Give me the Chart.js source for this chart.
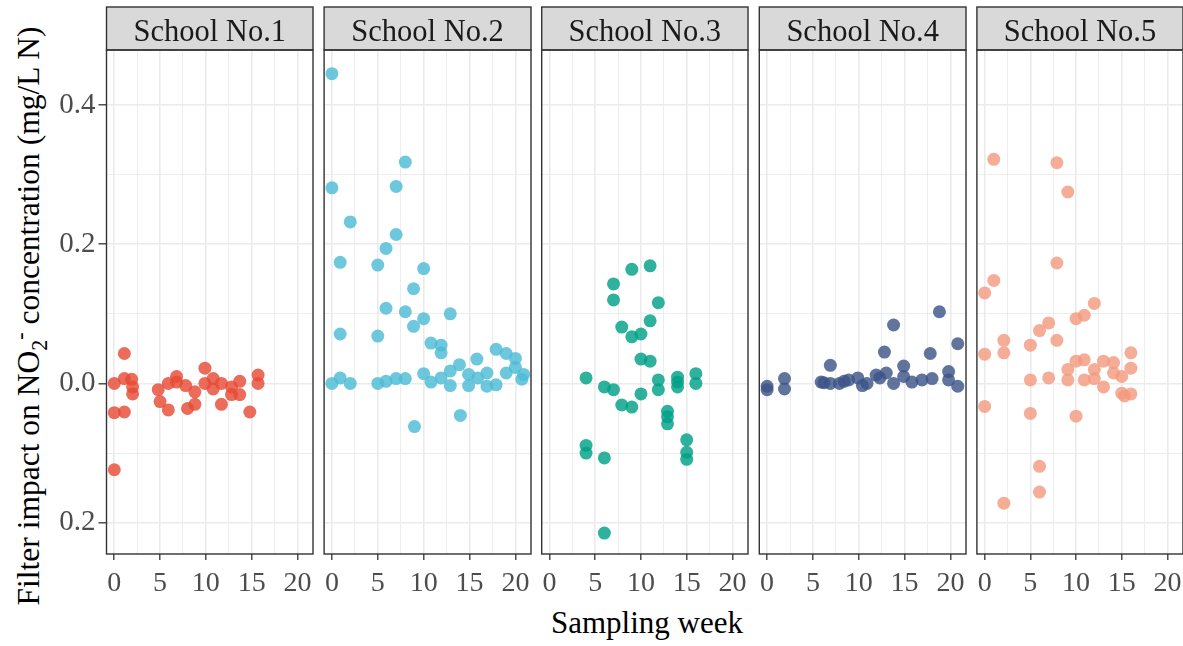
<!DOCTYPE html>
<html>
<head>
<meta charset="utf-8">
<script src="https://cdn.jsdelivr.net/npm/chart.js@4.4.1/dist/chart.umd.min.js"></script>
<style>
  body { margin: 0; background: #fff; }
  #wrap { position: relative; width: 1183px; height: 646px; overflow: hidden; background: #fff;
          font-family: "Liberation Serif", "Times New Roman", serif; color: #000; }
  #wrap canvas { position: absolute; top: 0; }
  .ytitle { position: absolute; left: 29px; top: 316px; font-size: 31.5px; line-height: 1; white-space: nowrap;
            transform: translate(-50%, -50%) rotate(-90deg); }
  .ytitle sub, .ytitle sup { font-size: 70%; line-height: 0; }
  .xtitle { position: absolute; left: 647px; top: 607px; font-size: 31px; line-height: 1; white-space: nowrap;
            transform: translateX(-50%); }
</style>
</head>
<body>
<div id="wrap">
  <div class="ytitle">Filter impact on NO<sub>2</sub><sup>-</sup> concentration (mg/L N)</div>
  <div class="xtitle">Sampling week</div>
</div>
<script>
// facets
var schools = ['School No.1', 'School No.2', 'School No.3', 'School No.4', 'School No.5'];
var colors = ['#E64B35', '#4DBBD5', '#00A087', '#3C5488', '#F39B7F'];

// sampling week / filter impact per school
var s1Week = [0, 0, 0, 1.1, 1.1, 1.1, 1.9, 2, 2, 4.8, 5, 5.9, 5.9, 6.8, 6.8, 7.8, 8, 8.8, 8.8, 9.9, 9.9,
              10.8, 10.8, 11.7, 11.7, 12.8, 12.8, 13.7, 13.7, 14.8, 15.7, 15.7];
var s1Impact = [0, -0.042, -0.124, 0.043, 0.007, -0.041, 0.006, -0.005, -0.015, -0.009, -0.026, -0.038, 0,
                0.01, 0.002, -0.003, -0.036, -0.03, -0.012, 0.022, 0, 0.007, -0.008, -0.03, 0, -0.016,
                -0.005, 0.003, -0.016, -0.041, 0.012, 0];

var s2Week = [0, 0, 2, 0.9, 0.9, 0, 0.9, 2, 8, 7, 7, 5.9, 5, 10, 8.9, 5.9, 8, 10, 8.9, 12.9, 5, 10.8, 11.9,
              11.9, 5, 5.9, 7, 8, 10, 10.8, 11.9, 12.9, 12.9, 13.9, 15.8, 14.9, 14.9, 15.9, 16.9, 16.9,
              17.9, 19, 20, 17.9, 19, 20, 20.9, 20.7, 9, 14];
var s2Impact = [0.445, 0.281, 0.232, 0.174, 0.071, 0, 0.008, 0, 0.318, 0.283, 0.214, 0.194, 0.17, 0.165,
                0.136, 0.108, 0.103, 0.093, 0.082, 0.1, 0.068, 0.058, 0.055, 0.044, 0, 0.003, 0.007, 0.007,
                0.014, 0.002, 0.008, 0.018, -0.003, 0.027, 0.035, 0.013, -0.003, 0.008, 0.015, -0.004,
                0.049, 0.043, 0.036, -0.002, 0.015, 0.023, 0.013, 0.006, -0.062, -0.046];

var s3Week = [4, 4, 4, 6, 6, 6, 7, 7, 7, 7.9, 7.9, 9, 9, 9, 10, 10, 10, 11, 11, 11, 11.9, 11.9, 11.9,
              12.9, 12.9, 12.9, 14, 14, 14, 15, 15, 15, 16, 16];
var s3Impact = [0.008, -0.089, -0.1, -0.107, -0.215, -0.005, -0.009, 0.143, 0.12, 0.081, -0.031, 0.164,
                0.067, -0.034, 0.071, 0.035, -0.015, 0.169, 0.09, 0.032, 0.116, 0.005, -0.009, -0.04,
                -0.048, -0.058, 0.009, 0.002, -0.005, -0.081, -0.099, -0.109, 0.014, 0];

var s4Week = [0, 0, 1.9, 1.9, 5.9, 6.2, 6.9, 6.9, 7.9, 8.4, 8.9, 9.9, 10.4, 10.9, 11.9, 12.3, 12.8, 13,
              13.8, 13.8, 14.9, 14.9, 15.8, 16.9, 17.8, 18, 18.8, 19.8, 19.8, 20.8, 20.8];
var s4Impact = [-0.004, -0.009, 0.007, -0.008, 0.002, 0.001, 0.026, 0, 0, 0.003, 0.005, 0.008, -0.003, 0,
                0.012, 0.008, 0.045, 0.015, 0.084, 0, 0.025, 0.01, 0.002, 0.005, 0.043, 0.007, 0.103,
                0.017, 0.005, 0.057, -0.004];

var s5Week = [0, 0, 0, 1, 1, 2.1, 2.1, 2.1, 5, 5, 5, 6, 6, 6, 7, 7, 7.9, 7.9, 7.9, 9.1, 9.1, 9.1, 10, 10,
              10, 10.9, 10.9, 10.9, 12, 12, 12, 13, 13, 14.1, 14.1, 15, 15, 16, 16, 16, 15.3];
var s5Impact = [0.13, 0.042, -0.033, 0.322, 0.148, 0.062, 0.044, -0.172, 0.055, 0.005, -0.043, -0.119,
                -0.156, 0.076, 0.087, 0.008, 0.317, 0.173, 0.062, 0.275, 0.02, 0.005, 0.093, 0.032, -0.047,
                0.098, 0.034, 0.005, 0.115, 0.02, 0.007, 0.032, -0.005, 0.03, 0.015, -0.014, 0.01, 0.044,
                0.022, -0.015, -0.018];

var weeks = [s1Week, s2Week, s3Week, s4Week, s5Week];
var impacts = [s1Impact, s2Impact, s3Impact, s4Impact, s5Impact];

// axis ticks
var xMajor = [0, 5, 10, 15, 20];
var xMinor = [2.5, 7.5, 12.5, 17.5];
var yMajor = [-0.2, 0, 0.2, 0.4];
var yMajorLabels = ['0.2', '0.0', '0.2', '0.4'];
var yMinor = [-0.1, 0.1, 0.3];

var FONT = 'Liberation Serif';
var panelLeft = 106.5, panelStep = 217.6, panelWidth = 206;
var plotTop = 50, plotBottom = 554, stripTop = 7;
var H = 646;

function buildTicks(major, minor) {
  return function (scale) {
    var t = major.map(function (v) { return { value: v, major: true }; })
      .concat(minor.map(function (v) { return { value: v, major: false }; }));
    t.sort(function (a, b) { return a.value - b.value; });
    scale.ticks = t;
  };
}

// grey strip on top of each panel + dark panel border
var facetFrame = {
  id: 'facetFrame',
  afterDraw: function (chart, args, opts) {
    var ctx = chart.ctx, a = chart.chartArea;
    ctx.save();
    ctx.fillStyle = '#d9d9d9';
    ctx.fillRect(a.left, stripTop, a.right - a.left, a.top - stripTop);
    ctx.strokeStyle = '#333333';
    ctx.lineWidth = 1.4;
    ctx.strokeRect(a.left, stripTop, a.right - a.left, a.top - stripTop);
    ctx.strokeRect(a.left, a.top, a.right - a.left, a.bottom - a.top);
    ctx.fillStyle = '#1a1a1a';
    ctx.font = '30.5px "' + FONT + '"';
    ctx.textAlign = 'center';
    ctx.textBaseline = 'alphabetic';
    ctx.fillText(opts.label, (a.left + a.right) / 2, 40.5);
    ctx.restore();
  }
};

var wrap = document.getElementById('wrap');

schools.forEach(function (name, i) {
  var left = panelLeft + panelStep * i;
  var canvasLeft = i === 0 ? 0 : Math.floor(left - 12);
  var padLeft = i === 0 ? 0 : left - canvasLeft;
  var yWidth = i === 0 ? left : 0;
  var canvas = document.createElement('canvas');
  canvas.width = Math.ceil(left - canvasLeft + panelWidth + 12);
  canvas.height = H;
  canvas.style.left = canvasLeft + 'px';
  wrap.appendChild(canvas);

  var points = weeks[i].map(function (w, k) { return { x: w, y: impacts[i][k] }; });

  new Chart(canvas, {
    type: 'scatter',
    data: {
      datasets: [{
        label: name,
        data: points,
        backgroundColor: colors[i] + 'd0',
        borderWidth: 0,
        pointRadius: 6.5,
        pointHoverRadius: 6.5
      }]
    },
    options: {
      responsive: false,
      animation: false,
      devicePixelRatio: 1,
      events: [],
      layout: { padding: { left: padLeft, right: 12, top: plotTop, bottom: 0 } },
      plugins: {
        legend: { display: false },
        tooltip: { enabled: false },
        facetFrame: { label: name }
      },
      scales: {
        x: {
          type: 'linear',
          min: -0.85,
          max: 21.7,
          afterBuildTicks: buildTicks(xMajor, xMinor),
          afterFit: function (s) { s.height = H - plotBottom; },
          border: { display: false },
          grid: {
            color: '#ebebeb',
            lineWidth: function (c) { return c.tick && c.tick.major ? 1.6 : 0.9; },
            drawTicks: true,
            tickLength: 6,
            tickWidth: 1.3,
            tickColor: function (c) { return c.tick && c.tick.major ? '#333333' : 'rgba(0,0,0,0)'; }
          },
          ticks: {
            autoSkip: false,
            maxRotation: 0,
            padding: 7,
            color: '#4d4d4d',
            font: { family: FONT, size: 28 },
            callback: function (v) { return xMajor.indexOf(v) >= 0 ? String(v) : ''; }
          }
        },
        y: {
          type: 'linear',
          min: -0.245,
          max: 0.479,
          afterBuildTicks: buildTicks(yMajor, yMinor),
          afterFit: function (s) { s.width = yWidth; },
          border: { display: false },
          grid: {
            color: '#ebebeb',
            lineWidth: function (c) { return c.tick && c.tick.major ? 1.6 : 0.9; },
            drawTicks: i === 0,
            tickLength: 8,
            tickWidth: 1.3,
            tickColor: function (c) { return c.tick && c.tick.major ? '#333333' : 'rgba(0,0,0,0)'; }
          },
          ticks: {
            display: i === 0,
            autoSkip: false,
            padding: 3,
            color: '#4d4d4d',
            font: { family: FONT, size: 29 },
            callback: function (v) {
              var k = yMajor.indexOf(v);
              return k >= 0 ? yMajorLabels[k] : '';
            }
          }
        }
      }
    },
    plugins: [facetFrame]
  });
});
</script>
</body>
</html>
